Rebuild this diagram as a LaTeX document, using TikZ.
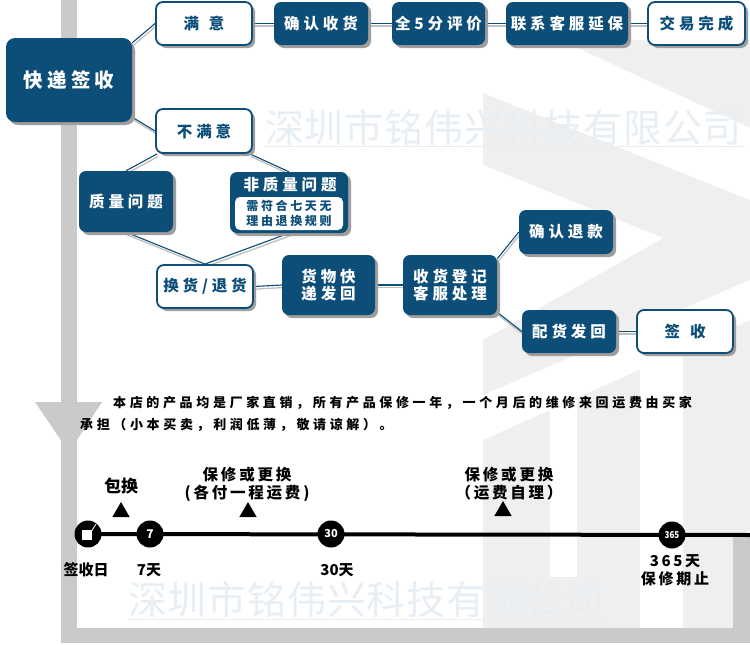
\documentclass[tikz,border=0pt]{standalone}
\usepackage{fontspec}
\setmainfont{Noto Sans CJK SC}
\newfontfamily\bxfont[LetterSpace=25]{Noto Sans CJK SC}
\newfontfamily\kdfont[LetterSpace=22]{Noto Sans CJK SC}
\newfontfamily\smfont[LetterSpace=22]{Noto Sans CJK SC}
\newfontfamily\parfont[LetterSpace=28]{Noto Sans CJK SC}
\newfontfamily\tlfont[LetterSpace=18]{Noto Sans CJK SC}
\newfontfamily\plainfont{Noto Sans CJK SC}
\newfontfamily\wmfont[LetterSpace=2]{Noto Sans CJK SC}
\usetikzlibrary{shadows,shapes.geometric}
\definecolor{db}{HTML}{0C4E78}
\definecolor{framegray}{HTML}{CACACA}
\definecolor{bgl}{HTML}{EFEFEF}
\definecolor{wm}{HTML}{E7EEF4}
\pgfdeclarelayer{back}
\pgfdeclarelayer{mid}
\pgfsetlayers{back,mid,main}
\begin{document}
\begin{tikzpicture}[x=1pt,y=-1pt,
  box/.style={rounded corners=7pt, inner sep=0pt, align=center,
    drop shadow={shadow xshift=3pt,shadow yshift=-3pt,fill=black!38,opacity=1}},
  bbox/.style={box, fill=db, text=white, font=\bxfont\fontsize{15.5}{17}\selectfont\bfseries},
  wbox/.style={box, fill=white, draw=db, line width=1.8pt, text=db, font=\bxfont\fontsize{15.5}{17}\selectfont\bfseries},
  conn/.style={draw=db, line width=1.1pt,
    preaction={draw=black!25, line width=1.3pt, transform canvas={xshift=1pt,yshift=-2.6pt}}},
  tc/.style={circle, fill=black, minimum size=27pt, inner sep=0pt, text=white,
    font=\plainfont\fontsize{12}{12}\selectfont\bfseries},
  tri/.style={regular polygon, regular polygon sides=3, fill=black, minimum size=20pt, inner sep=0pt},
  lbl/.style={inner sep=0pt, align=center, text=black, font=\tlfont\fontsize{15}{17}\selectfont\bfseries},
  wmtext/.style={anchor=west, inner sep=0pt, text=wm, font=\wmfont\fontsize{39}{40}\selectfont}
]
\useasboundingbox (0,0) rectangle (750,645);

% ---------- background decoration ----------
\begin{pgfonlayer}{back}
\fill[white] (0,0) rectangle (750,645);
\fill[bgl] (483,40) rectangle (733,630);
\fill[bgl] (733,40) rectangle (750,537);
\fill[white] (483,40) -- (560,40) -- (750,128) -- (750,200) -- (483,93) -- cycle;
\fill[white] (483,165) -- (663,238) -- (483,340) -- cycle;
\fill[white] (483,395) -- (750,280) -- (750,320) -- (483,440) -- cycle;
\fill[white] (550,400) rectangle (577,577);
\fill[white] (640,330) rectangle (683,630);
% frame
\fill[framegray] (61,0) rectangle (77,643);
\fill[framegray] (61,628) rectangle (750,643);
\fill[framegray] (733,537) rectangle (750,643);
\fill[framegray] (35,402) -- (102,402) -- (69,452) -- cycle;
% watermarks
\node[wmtext] (wm1) at (265,128) {深圳市铭伟兴科技有限公司};
\draw[wm, line width=1pt] (265,146) -- (745,146);
\node[wmtext] (wm2) at (128,600) {深圳市铭伟兴科技有限公司};
\draw[wm, line width=1pt] (128,619) -- (606,619);
\end{pgfonlayer}

% ---------- boxes ----------
\node[bbox, minimum width=126pt, minimum height=84pt, rounded corners=9pt,
  font=\kdfont\fontsize{19.5}{22}\selectfont\bfseries] (kd) at (69,80) {快递签收};
\node[wbox, minimum width=96pt, minimum height=43pt] (my) at (204,23.5) {满\hspace{10pt}意};
\node[bbox, minimum width=94pt, minimum height=43pt] (qr) at (321,23.5) {确认收货};
\node[bbox, minimum width=93pt, minimum height=43pt] (q5) at (438.5,23.5) {全5分评价};
\node[bbox, minimum width=122pt, minimum height=43pt] (lx) at (567,23.5) {联系客服延保};
\node[wbox, minimum width=97pt, minimum height=43pt] (jy) at (696.5,23.5) {交易完成};
\node[wbox, minimum width=96pt, minimum height=44pt] (bmy) at (204,131) {不满意};
\node[bbox, minimum width=94pt, minimum height=61pt] (zl) at (126,201.5) {质量问题};
\node[bbox, minimum width=118pt, minimum height=61pt] (fzl) at (289,202.5) {};
\node[inner sep=0pt, text=white, font=\bxfont\fontsize{15.5}{17}\selectfont\bfseries] (fzlt) at (290,185) {非质量问题};
\node[fill=white, rounded corners=5pt, minimum width=108pt, minimum height=33pt, inner sep=0pt,
  text=db, align=center, font=\smfont\fontsize{12}{14.5}\selectfont\bfseries] (fzlr) at (289,213.5) {需符合七天无\\理由退换规则};
\node[wbox, minimum width=96pt, minimum height=43pt] (hh) at (205,286.5) {换货/退货};
\node[bbox, minimum width=93pt, minimum height=60pt] (hw) at (328.5,285) {货物快\\递发回};
\node[bbox, minimum width=94pt, minimum height=60pt] (sd) at (450,285) {收货登记\\客服处理};
\node[bbox, minimum width=94pt, minimum height=44pt] (qt) at (566,232) {确认退款};
\node[bbox, minimum width=94pt, minimum height=43pt] (ph) at (569,331.5) {配货发回};
\node[wbox, minimum width=96pt, minimum height=43pt] (qs) at (685,331.5) {签\hspace{10pt}收};

% ---------- connectors ----------
\begin{pgfonlayer}{mid}
\draw[conn] ([yshift=-5pt]kd.north east) -- (my.west);
\draw[conn] ([yshift=5pt]kd.south east) -- (bmy.west);
\draw[conn] (my.east) -- (qr.west);
\draw[conn] (qr.east) -- (q5.west);
\draw[conn] (q5.east) -- (lx.west);
\draw[conn] (lx.east) -- (jy.west);
\draw[conn] ([xshift=2pt]bmy.south west) -- (zl.north);
\draw[conn] ([xshift=-3pt]bmy.south east) -- (fzl.north);
\draw[conn] (zl.south) -- (hh.north);
\draw[conn] (fzl.south) -- (hh.north);
\draw[conn] (hh.east) -- (hw.west);
\draw[conn] (hw.east) -- (sd.west);
\draw[conn] ([yshift=-4pt]sd.north east) -- (qt.west);
\draw[conn] ([yshift=3pt]sd.south east) -- (ph.west);
\draw[conn] (ph.east) -- (qs.west);
\end{pgfonlayer}

% ---------- note text ----------
\node[anchor=west, inner sep=0pt, font=\parfont\fontsize{13}{15}\selectfont\bfseries] (p1) at (113,403)
  {本店的产品均是厂家直销，所有产品保修一年，一个月后的维修来回运费由买家};
\node[anchor=west, inner sep=0pt, font=\parfont\fontsize{13}{15}\selectfont\bfseries] (p2) at (80,425)
  {承担（小本买卖，利润低薄，敬请谅解）。};

% ---------- timeline ----------
\node[tc] (t0) at (88,534) {};
\node[tc] (t7) at (150,534) {7};
\node[tc, font=\plainfont\fontsize{11}{11}\selectfont\bfseries] (t30) at (331,534) {30};
\node[tc, font=\plainfont\fontsize{9.5}{9.5}\selectfont\bfseries] (t365) at (672,535) {\scalebox{0.85}[1]{365}};
\coordinate (tend) at (750,535);
\begin{pgfonlayer}{mid}
\draw[line width=4pt] (t0.center) -- (tend);
\end{pgfonlayer}
\fill[white] (82,530) rectangle (92,540);
\draw[white, line width=0.8pt] (91,532) -- (96,524);

\node[tri] (tr1) at (121,512) {};
\node[tri] (tr2) at (248,512) {};
\node[tri] (tr3) at (503,511) {};

\node[lbl, font=\plainfont\fontsize{17}{19}\selectfont\bfseries] (lb1) at (121,486) {包换};
\node[lbl, font=\tlfont\fontsize{15.5}{18}\selectfont\bfseries] (lb2) at (247,484) {保修或更换\\(各付一程运费)};
\node[lbl, font=\tlfont\fontsize{15.5}{18}\selectfont\bfseries] (lb3) at (509,484) {保修或更换\\（运费自理）};

\node[lbl, font=\plainfont\fontsize{15}{17}\selectfont\bfseries] (d0) at (86,570) {签收日};
\node[lbl, font=\plainfont\fontsize{15}{17}\selectfont\bfseries] (d7) at (149,570) {7天};
\node[lbl, font=\plainfont\fontsize{15}{17}\selectfont\bfseries] (d30) at (337,570) {30天};
\node[lbl, font=\tlfont\fontsize{15}{18}\selectfont\bfseries] (d365) at (675,570) {365天\\保修期止};
\end{tikzpicture}
\end{document}
